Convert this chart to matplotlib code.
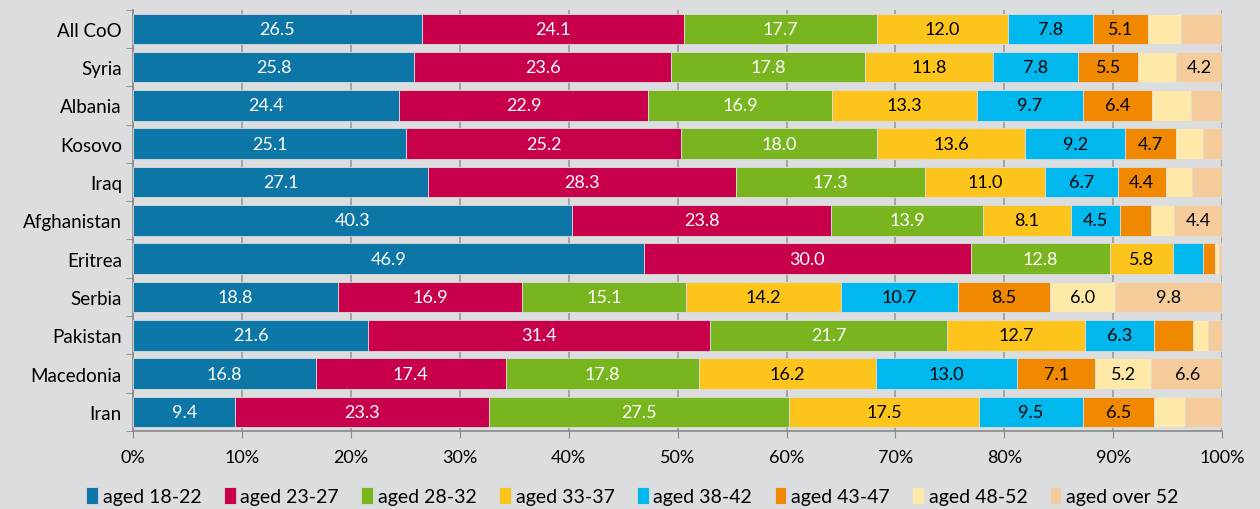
import numpy as np
import matplotlib.pyplot as plt

plt.rcParams['font.family'] = ['Lato', 'DejaVu Sans']

countries = ['All CoO', 'Syria', 'Albania', 'Kosovo', 'Iraq', 'Afghanistan',
             'Eritrea', 'Serbia', 'Pakistan', 'Macedonia', 'Iran']
groups = ['aged 18-22', 'aged 23-27', 'aged 28-32', 'aged 33-37',
          'aged 38-42', 'aged 43-47', 'aged 48-52', 'aged over 52']

# shares in % per country, one list per age group (same order as countries)
aged_18_22 = [26.5, 25.8, 24.4, 25.1, 27.1, 40.3, 46.9, 18.8, 21.6, 16.8, 9.4]
aged_23_27 = [24.1, 23.6, 22.9, 25.2, 28.3, 23.8, 30.0, 16.9, 31.4, 17.4, 23.3]
aged_28_32 = [17.7, 17.8, 16.9, 18.0, 17.3, 13.9, 12.8, 15.1, 21.7, 17.8, 27.5]
aged_33_37 = [12.0, 11.8, 13.3, 13.6, 11.0, 8.1, 5.8, 14.2, 12.7, 16.2, 17.5]
aged_38_42 = [7.8, 7.8, 9.7, 9.2, 6.7, 4.5, 2.7, 10.7, 6.3, 13.0, 9.5]
aged_43_47 = [5.1, 5.5, 6.4, 4.7, 4.4, 2.9, 1.1, 8.5, 3.6, 7.1, 6.5]
aged_48_52 = [3.0, 3.5, 3.5, 2.4, 2.4, 2.1, 0.4, 6.0, 1.4, 5.2, 2.9]
aged_over_52 = [3.8, 4.2, 2.9, 1.8, 2.8, 4.4, 0.3, 9.8, 1.3, 6.6, 3.4]

# which segments carry a value label (small ones are left blank in the original)
shown = [
    [1, 1, 1, 1, 1, 1, 0, 0],
    [1, 1, 1, 1, 1, 1, 0, 1],
    [1, 1, 1, 1, 1, 1, 0, 0],
    [1, 1, 1, 1, 1, 1, 0, 0],
    [1, 1, 1, 1, 1, 1, 0, 0],
    [1, 1, 1, 1, 1, 0, 0, 1],
    [1, 1, 1, 1, 0, 0, 0, 0],
    [1, 1, 1, 1, 1, 1, 1, 1],
    [1, 1, 1, 1, 1, 0, 0, 0],
    [1, 1, 1, 1, 1, 1, 1, 1],
    [1, 1, 1, 1, 1, 1, 0, 0],
]

colors = ['#0c77a6', '#c8004b', '#78b51e', '#fdc41b', '#00b7ee',
          '#f08800', '#fee9a8', '#f7cc9c']
text_colors = ['white', 'white', 'white', 'black', 'black', 'black', 'black', 'black']
bg = '#dcdddf'

series = [aged_18_22, aged_23_27, aged_28_32, aged_33_37,
          aged_38_42, aged_43_47, aged_48_52, aged_over_52]

fig = plt.figure(figsize=(12.6, 5.1), dpi=100, facecolor=bg)
ax = fig.add_axes([0.1056, 0.153, 0.8644, 0.826], facecolor=bg)

y = np.arange(len(countries))
left = np.zeros(len(countries))
for i, vals in enumerate(series):
    vals = np.array(vals)
    bars = ax.barh(y, vals, left=left, height=0.8, color=colors[i],
                   edgecolor=bg, linewidth=0.6, label=groups[i], zorder=3)
    for j, b in enumerate(bars):
        if shown[j][i]:
            ax.text(left[j] + vals[j] / 2, y[j], f'{vals[j]:.1f}',
                    ha='center', va='center', fontsize=13,
                    color=text_colors[i], zorder=4)
    left += vals

ax.set_xlim(0, 100)
ax.set_ylim(len(countries) - 0.5, -0.5)
ax.set_yticks(y)
ax.set_yticklabels(countries, fontsize=13.5)
ax.set_yticks(np.arange(-0.5, len(countries)), minor=True)
ax.tick_params(axis='y', which='major', length=0, pad=8)
ax.tick_params(axis='y', which='minor', length=5, color='#888888')
ax.set_xticks(np.arange(0, 101, 10))
ax.set_xticklabels([f'{v}%' for v in range(0, 101, 10)], fontsize=13)
ax.tick_params(axis='x', length=5, color='#888888', pad=8)
ax.grid(axis='x', color='#9a9a9a', linewidth=1.2, zorder=0)

for s in ['top', 'right']:
    ax.spines[s].set_visible(False)
for s in ['left', 'bottom']:
    ax.spines[s].set_color('#888888')
    ax.spines[s].set_linewidth(1.2)

handles, labels = ax.get_legend_handles_labels()
fig.legend(handles, labels, loc='center', bbox_to_anchor=(0.502, 0.025), ncol=8,
           frameon=False, fontsize=14, handlelength=0.6, handleheight=1.0,
           handletextpad=0.25, columnspacing=1.15, borderaxespad=0)

fig.savefig('out.png', dpi=100, facecolor=bg)
